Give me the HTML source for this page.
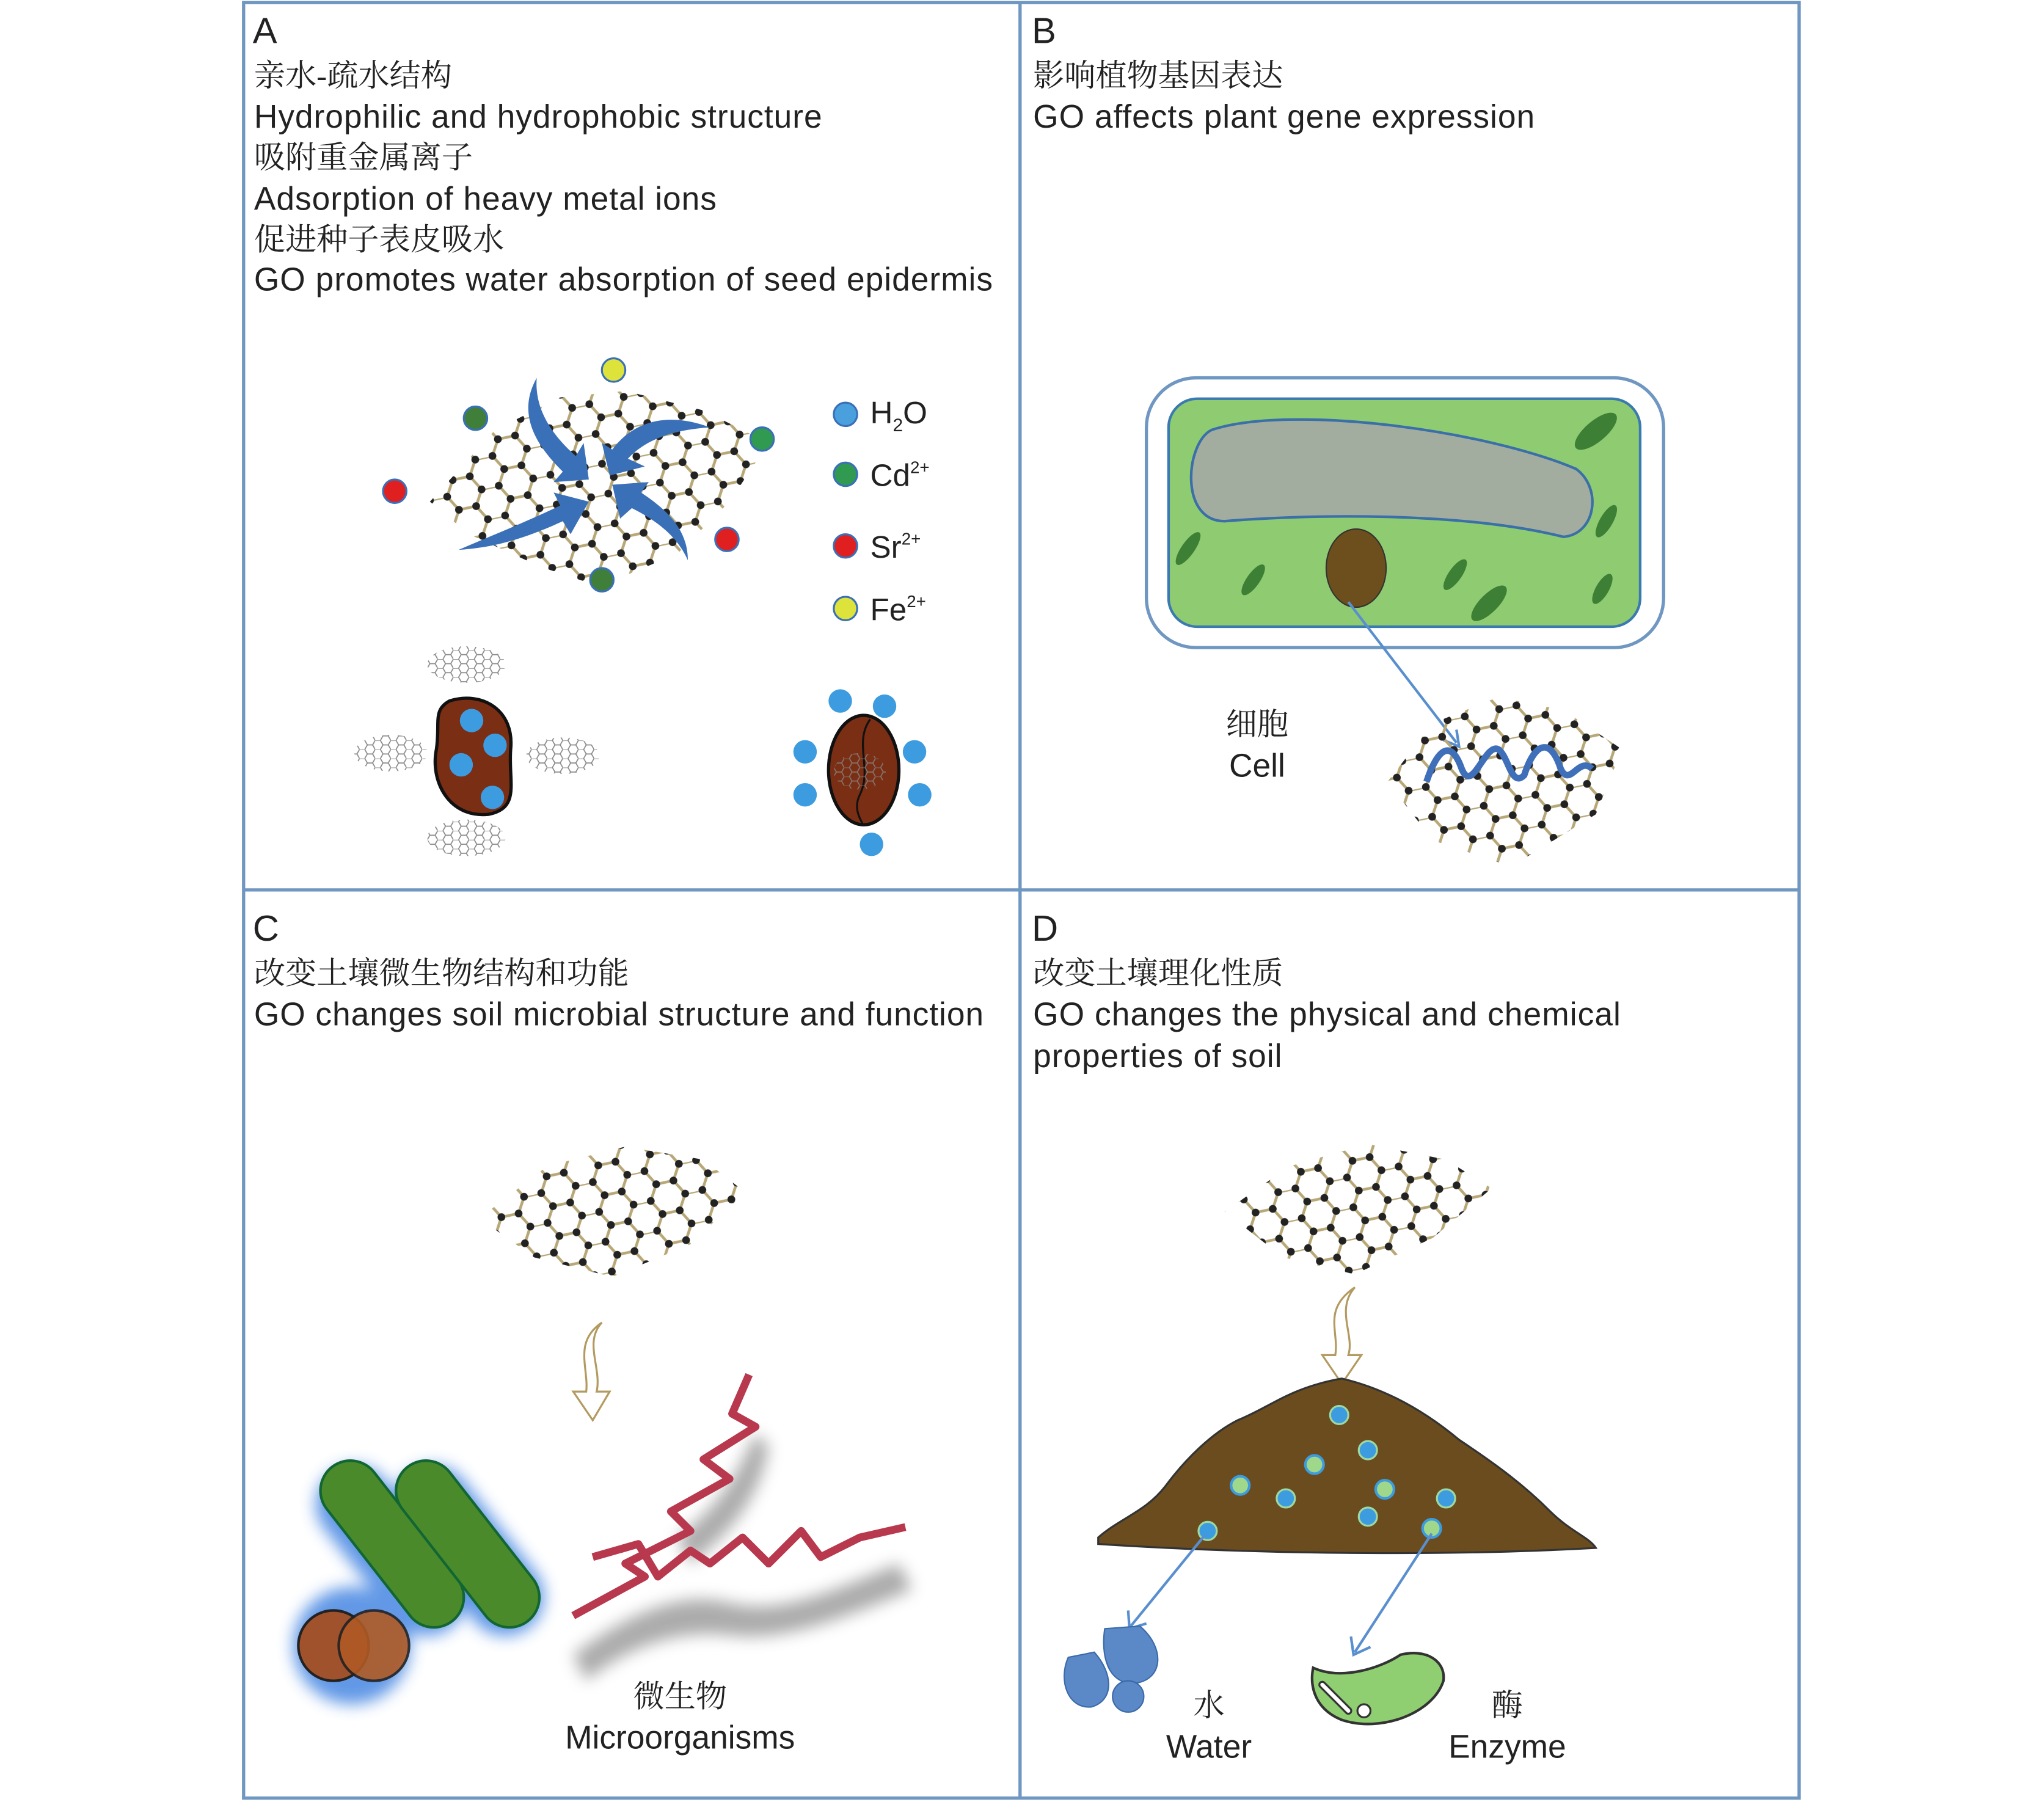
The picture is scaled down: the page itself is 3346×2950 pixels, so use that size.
<!DOCTYPE html>
<html><head><meta charset="utf-8"><style>
html,body{margin:0;padding:0;background:#fff;}
svg{display:block;}
text{font-family:"Liberation Sans","Noto Sans CJK SC",sans-serif;fill:#222;}
.cn{font-family:"Liberation Serif","Noto Serif CJK SC",serif;}
</style></head><body>
<svg width="3346" height="2950" viewBox="0 0 1569 1383" preserveAspectRatio="none" xmlns="http://www.w3.org/2000/svg">
<defs>
<pattern id="hex" width="30" height="17.32" patternUnits="userSpaceOnUse" patternTransform="rotate(-12) scale(1.35)">
<g stroke="#b8a878" stroke-width="1.6" fill="none">
<path d="M0,0 L10,0 L15,8.66 L25,8.66 L30,0 M15,8.66 L10,17.32 M25,8.66 L30,17.32"/>
</g>
<g fill="#222"><circle cx="0" cy="0" r="2.2"/><circle cx="10" cy="0" r="2.2"/><circle cx="15" cy="8.66" r="2.2"/><circle cx="25" cy="8.66" r="2.2"/><circle cx="30" cy="0" r="2.2"/><circle cx="10" cy="17.32" r="2.2"/><circle cx="30" cy="17.32" r="2.2"/><circle cx="0" cy="17.32" r="2.2"/></g>
</pattern>
<pattern id="hexs" width="12" height="6.93" patternUnits="userSpaceOnUse">
<path d="M0,0 L4,0 L6,3.46 L10,3.46 L12,0 M6,3.46 L4,6.93 M10,3.46 L12,6.93" stroke="#888" stroke-width="0.8" fill="none"/>
</pattern>
<filter id="blur"><feGaussianBlur stdDeviation="6"/></filter>
</defs>

<!-- frame -->
<g fill="none" stroke="#6f97c2" stroke-width="2.5">
<rect x="187" y="2" width="1194" height="1378"/>
<line x1="783" y1="2" x2="783" y2="1380"/>
<line x1="187" y1="683" x2="1381" y2="683"/>
</g>

<!-- Panel A text -->
<g font-size="25">
<text x="194" y="33" font-size="28">A</text>
<text x="195" y="66" class="cn" font-size="24">亲水-疏水结构</text>
<text x="195" y="98" textLength="436">Hydrophilic and hydrophobic structure</text>
<text x="195" y="129" class="cn" font-size="24">吸附重金属离子</text>
<text x="195" y="161" textLength="355">Adsorption of heavy metal ions</text>
<text x="195" y="192" class="cn" font-size="24">促进种子表皮吸水</text>
<text x="195" y="223" textLength="567">GO promotes water absorption of seed epidermis</text>
</g>

<!-- Panel A graphene -->
<polygon points="330,385 380,330 430,305 480,300 540,315 590,340 560,385 520,425 460,450 415,435 360,410" fill="url(#hex)"/>
<g fill="#3a70b8">
<path d="M412,290 C395,320 415,345 432,362 L425,370 L452,368 L448,340 L442,350 C425,335 410,315 412,290 Z"/>
<path d="M545,328 C510,315 485,325 470,345 L462,340 L468,365 L495,358 L482,352 C495,338 515,330 545,328 Z"/>
<path d="M352,422 C385,420 410,410 432,400 L438,410 L452,385 L425,378 L430,388 C405,400 380,410 352,422 Z"/>
<path d="M528,430 C528,405 510,390 492,378 L498,370 L470,372 L476,398 L485,390 C505,400 520,412 528,430 Z"/>
</g>
<g stroke="#3a70b8" stroke-width="1.5">
<circle cx="471" cy="284" r="9" fill="#dde33a"/>
<circle cx="365" cy="321" r="9" fill="#3f7f3a"/>
<circle cx="585" cy="337" r="9" fill="#2f9a50"/>
<circle cx="462" cy="445" r="9" fill="#3f7f3a"/>
<circle cx="303" cy="377" r="9" fill="#e02020"/>
<circle cx="558" cy="414" r="9" fill="#e02020"/>
<circle cx="649" cy="318" r="9" fill="#4aa0dd"/>
<circle cx="649" cy="364" r="9" fill="#2f9a50"/>
<circle cx="649" cy="419" r="9" fill="#e02020"/>
<circle cx="649" cy="467" r="9" fill="#dde33a"/>
</g>
<g font-size="24">
<text x="668" y="325">H<tspan font-size="14" dy="6">2</tspan><tspan dy="-6">O</tspan></text>
<text x="668" y="373">Cd<tspan font-size="13" dy="-10">2+</tspan></text>
<text x="668" y="428">Sr<tspan font-size="13" dy="-10">2+</tspan></text>
<text x="668" y="476">Fe<tspan font-size="13" dy="-10">2+</tspan></text>
</g>

<!-- seeds -->
<g fill="url(#hexs)">
<ellipse cx="358" cy="510" rx="30" ry="14"/>
<ellipse cx="300" cy="578" rx="28" ry="14"/>
<ellipse cx="432" cy="580" rx="28" ry="14"/>
<ellipse cx="358" cy="643" rx="30" ry="14"/>
</g>
<path d="M345,538 C370,530 395,545 392,575 C390,600 400,620 375,625 C345,628 330,600 335,575 C338,555 332,545 345,538 Z" fill="#7a2e14" stroke="#111" stroke-width="2.5"/>
<g fill="#3d9be0"><circle cx="362" cy="553" r="9"/><circle cx="380" cy="572" r="9"/><circle cx="354" cy="587" r="9"/><circle cx="378" cy="612" r="9"/></g>
<ellipse cx="663" cy="591" rx="27" ry="42" fill="#7a2e14" stroke="#111" stroke-width="2.5"/>
<path d="M668,552 C655,570 670,590 660,610 C655,620 660,628 662,632" stroke="#111" stroke-width="1.5" fill="none"/>
<ellipse cx="660" cy="592" rx="20" ry="14" fill="url(#hexs)" opacity="0.8"/>
<g fill="#3d9be0"><circle cx="645" cy="538" r="9"/><circle cx="679" cy="542" r="9"/><circle cx="618" cy="577" r="9"/><circle cx="702" cy="577" r="9"/><circle cx="618" cy="610" r="9"/><circle cx="706" cy="610" r="9"/><circle cx="669" cy="648" r="9"/></g>

<!-- Panel B -->
<g font-size="25">
<text x="792" y="33" font-size="28">B</text>
<text x="793" y="66" class="cn" font-size="24">影响植物基因表达</text>
<text x="793" y="98" textLength="385">GO affects plant gene expression</text>
</g>
<rect x="880" y="290" width="397" height="207" rx="38" fill="#fff" stroke="#6f97c2" stroke-width="2.5"/>
<rect x="897" y="306" width="362" height="175" rx="22" fill="#8ecb71" stroke="#3a7ab0" stroke-width="2"/>
<path d="M930,330 C990,310 1140,330 1210,360 C1230,375 1225,410 1200,412 C1120,392 1000,395 940,400 C905,400 910,340 930,330 Z" fill="#a3ad9f" stroke="#3a6fa8" stroke-width="2"/>
<ellipse cx="1041" cy="436" rx="23" ry="30" fill="#6c4f1d" stroke="#333" stroke-width="1"/>
<g fill="#3e7f36">
<ellipse cx="1225" cy="331" rx="20" ry="8" transform="rotate(-40 1225 331)"/>
<ellipse cx="912" cy="421" rx="15" ry="5" transform="rotate(-55 912 421)"/>
<ellipse cx="962" cy="445" rx="14" ry="5" transform="rotate(-55 962 445)"/>
<ellipse cx="1117" cy="441" rx="14" ry="5" transform="rotate(-55 1117 441)"/>
<ellipse cx="1143" cy="463" rx="18" ry="7" transform="rotate(-45 1143 463)"/>
<ellipse cx="1233" cy="400" rx="14" ry="5" transform="rotate(-60 1233 400)"/>
<ellipse cx="1230" cy="452" rx="13" ry="5" transform="rotate(-60 1230 452)"/>
</g>
<line x1="1035" y1="462" x2="1118" y2="570" stroke="#5a8fcf" stroke-width="2"/>
<path d="M1108,568 L1120,573 L1118,560" fill="none" stroke="#5a8fcf" stroke-width="2"/>
<polygon points="1065,600 1100,555 1150,535 1200,545 1245,575 1225,625 1160,665 1100,645" fill="url(#hex)"/>
<path d="M1095,600 C1105,570 1115,570 1122,590 C1130,610 1140,570 1150,575 C1158,580 1160,605 1170,595 C1178,570 1190,565 1198,590 C1205,605 1212,580 1222,590" fill="none" stroke="#3f6fb8" stroke-width="5"/>
<text x="965" y="564" class="cn" font-size="24" text-anchor="middle">细胞</text>
<text x="965" y="596" font-size="25" text-anchor="middle">Cell</text>

<!-- Panel C -->
<g font-size="25">
<text x="194" y="722" font-size="28">C</text>
<text x="195" y="755" class="cn" font-size="24">改变土壤微生物结构和功能</text>
<text x="195" y="787" textLength="560">GO changes soil microbial structure and function</text>
</g>
<polygon points="368,935 420,895 480,880 540,890 572,915 530,955 470,980 410,965" fill="url(#hex)"/>
<path d="M462,1015 C448,1030 462,1050 458,1068 L468,1068 L455,1090 L440,1068 L450,1068 C452,1050 440,1030 462,1015 Z" fill="#fff" stroke="#b39a60" stroke-width="1.5"/>
<g filter="url(#blur)" fill="#888" opacity="0.7">
<path d="M440,1270 C480,1240 520,1220 560,1230 C600,1240 640,1220 690,1200 L700,1220 C640,1245 600,1260 560,1255 C520,1250 480,1265 450,1290 Z"/>
<path d="M520,1180 C560,1150 570,1120 580,1100 L590,1110 C585,1140 570,1170 530,1200 Z"/>
</g>
<g filter="url(#blur)" fill="#3a7fe0" opacity="0.8">
<rect x="270" y="1115" width="60" height="150" rx="30" transform="rotate(-38 300 1190)"/>
<rect x="330" y="1115" width="60" height="150" rx="30" transform="rotate(-38 360 1190)"/>
<circle cx="270" cy="1263" r="45"/>
</g>
<g stroke="#163" stroke-width="2">
<rect x="278" y="1110" width="46" height="150" rx="23" fill="#4a8a2a" transform="rotate(-38 301 1185)"/>
<rect x="336" y="1110" width="46" height="150" rx="23" fill="#4a8a2a" transform="rotate(-38 359 1185)"/>
</g>
<circle cx="256" cy="1263" r="27" fill="#a0522d" stroke="#222" stroke-width="2"/>
<circle cx="287" cy="1263" r="27" fill="#b05a25" stroke="#222" stroke-width="2" opacity="0.9"/>
<path d="M575,1055 L562,1085 L580,1095 L540,1120 L560,1135 L515,1160 L530,1175 L480,1200 L495,1210 L440,1240 M455,1195 L490,1185 L505,1210 L530,1190 L545,1200 L570,1180 L590,1200 L615,1175 L630,1195 L660,1180 L695,1172" fill="none" stroke="#b8384e" stroke-width="6" stroke-linejoin="round"/>
<text x="522" y="1310" class="cn" font-size="24" text-anchor="middle">微生物</text>
<text x="522" y="1342" font-size="25" text-anchor="middle">Microorganisms</text>

<!-- Panel D -->
<g font-size="25">
<text x="792" y="722" font-size="28">D</text>
<text x="793" y="755" class="cn" font-size="24">改变土壤理化性质</text>
<text x="793" y="787" textLength="451">GO changes the physical and chemical</text>
<text x="793" y="819" textLength="191">properties of soil</text>
</g>
<polygon points="940,930 990,895 1050,878 1110,890 1145,912 1100,950 1040,978 985,965" fill="url(#hex)"/>
<path d="M1040,988 C1025,1005 1040,1025 1035,1040 L1045,1040 L1030,1062 L1015,1040 L1025,1040 C1028,1022 1015,1005 1040,988 Z" fill="#fff" stroke="#b39a60" stroke-width="1.5"/>
<path d="M843,1180 C860,1165 880,1160 895,1140 C910,1120 930,1100 950,1090 C975,1080 990,1065 1030,1058 C1060,1065 1090,1080 1120,1105 C1150,1125 1170,1140 1190,1160 C1205,1175 1220,1180 1225,1188 C1100,1195 950,1192 843,1185 Z" fill="#6a4c1f" stroke="#333" stroke-width="1.5"/>
<g fill="#3d9be0" stroke="#9fd8a0" stroke-width="1.5">
<circle cx="1028" cy="1086" r="7"/><circle cx="1050" cy="1113" r="7"/><circle cx="987" cy="1150" r="7"/><circle cx="1050" cy="1164" r="7"/><circle cx="1110" cy="1150" r="7"/><circle cx="927" cy="1175" r="7"/>
</g>
<g fill="#9fd88a" stroke="#3d9be0" stroke-width="2">
<circle cx="1009" cy="1124" r="7"/><circle cx="952" cy="1140" r="7"/><circle cx="1063" cy="1143" r="7"/><circle cx="1099" cy="1173" r="7"/>
</g>
<g stroke="#5a8fcf" stroke-width="2" fill="none">
<line x1="925" y1="1178" x2="868" y2="1248"/><path d="M866,1236 L867,1250 L880,1246"/>
<line x1="1099" y1="1177" x2="1040" y2="1268"/><path d="M1037,1256 L1039,1270 L1052,1264"/>
</g>
<g fill="#5b88c6" stroke="#3a6aa8" stroke-width="1">
<path d="M820,1272 L840,1268 C855,1285 855,1305 838,1310 C820,1312 812,1290 820,1272 Z"/>
<path d="M848,1250 L875,1248 C895,1265 893,1290 870,1292 C850,1292 845,1270 848,1250 Z"/>
<circle cx="866" cy="1302" r="12"/>
</g>
<path d="M1008,1280 C1030,1290 1060,1280 1075,1270 C1095,1265 1110,1275 1108,1290 C1100,1315 1060,1330 1030,1320 C1010,1312 1005,1295 1008,1280 Z" fill="#8fcf72" stroke="#333" stroke-width="2"/>
<path d="M1015,1293 L1035,1313" stroke="#333" stroke-width="6" stroke-linecap="round"/>
<path d="M1015,1293 L1035,1313" stroke="#fff" stroke-width="3" stroke-linecap="round"/>
<circle cx="1047" cy="1313" r="5" fill="#fff" stroke="#333" stroke-width="1.5"/>
<text x="928" y="1317" class="cn" font-size="24" text-anchor="middle">水</text>
<text x="928" y="1349" font-size="25" text-anchor="middle">Water</text>
<text x="1157" y="1317" class="cn" font-size="24" text-anchor="middle">酶</text>
<text x="1157" y="1349" font-size="25" text-anchor="middle">Enzyme</text>
</svg>
</body></html>
